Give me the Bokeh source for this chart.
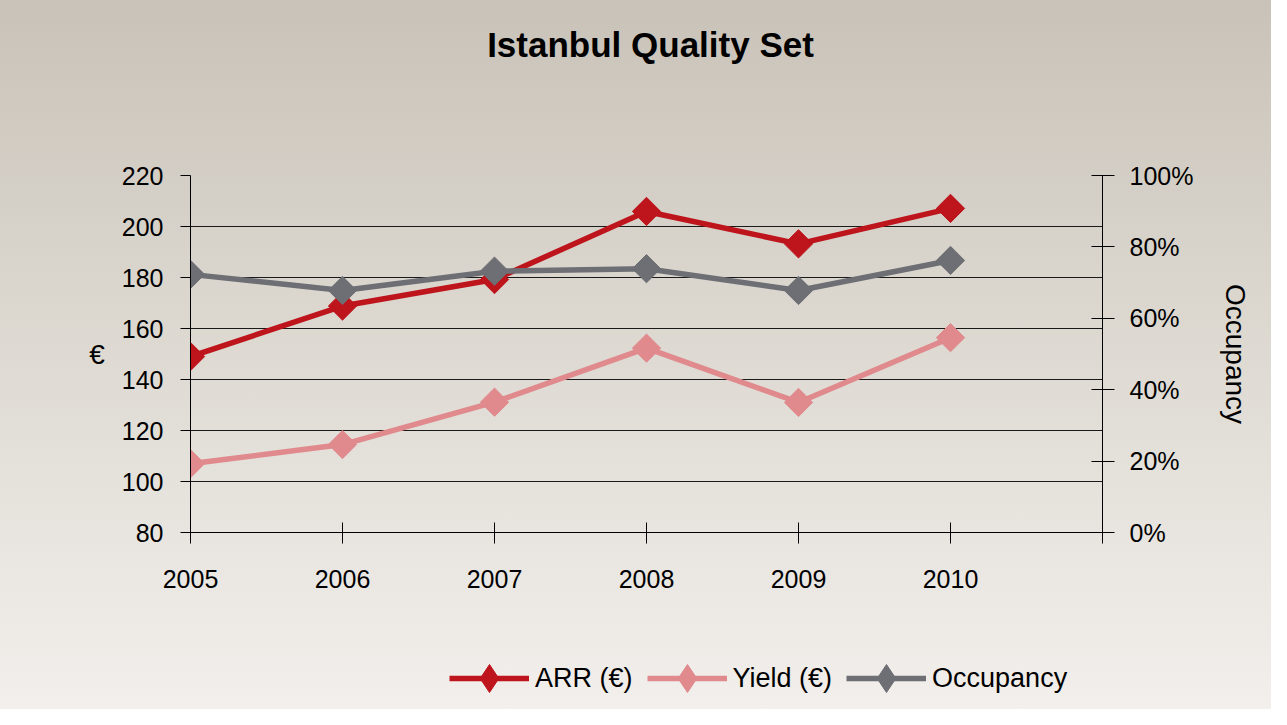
import math
from bokeh.plotting import figure
from bokeh.layouts import column
from bokeh.models import (Range1d, LinearAxis, FixedTicker, NumeralTickFormatter,
                          Legend, LegendItem, Label)
from bokeh.embed import file_html
from bokeh.resources import INLINE

years = [2005, 2006, 2007, 2008, 2009, 2010]
arr = [149.0, 168.8, 179.2, 205.9, 193.2, 207.1]
yield_eur = [107.0, 114.5, 131.1, 152.3, 131.0, 156.4]
occupancy = [0.723, 0.678, 0.732, 0.739, 0.678, 0.762]
left_ticks = [80, 100, 120, 140, 160, 180, 200, 220]
right_ticks = [0.0, 0.2, 0.4, 0.6, 0.8, 1.0]
x_ticks = [2005, 2006, 2007, 2008, 2009, 2010, 2011]
series_names = ["ARR (€)", "Yield (€)", "Occupancy"]
title_text = "Istanbul Quality Set"

FONT = "Liberation Sans"
RED = "#BE141C"
PINK = "#E08A8E"
GRAY = "#6D6F74"
COLORS = [RED, PINK, GRAY]
LW = 5.5
MS = 20
W = 1271


def strip(height, yr):
    f = figure(width=W, height=height, output_backend="svg", toolbar_location=None,
               x_range=Range1d(0, 1), y_range=Range1d(0, yr),
               x_axis_location=None, y_axis_location=None,
               min_border_left=0, min_border_right=0, min_border_top=0,
               min_border_bottom=0)
    f.border_fill_alpha = 0
    f.background_fill_alpha = 0
    f.outline_line_color = None
    f.grid.visible = False
    return f


# ---- title strip
tp = strip(155, 155)
tp.add_layout(Label(x=0.5, y=111, x_offset=4, text=title_text,
                    text_align="center", text_baseline="alphabetic",
                    text_font=FONT, text_font_size="35px", text_font_style="bold",
                    text_color="black"))

# ---- main chart
p = figure(width=W, height=450, output_backend="svg", toolbar_location=None,
           x_range=Range1d(2005, 2011), y_range=Range1d(80, 220),
           min_border_left=190, min_border_right=169, min_border_top=20,
           min_border_bottom=73)
p.border_fill_alpha = 0
p.background_fill_alpha = 0
p.outline_line_color = None
p.extra_y_ranges = {"occ": Range1d(0, 1)}

xa = p.xaxis[0]
xa.ticker = FixedTicker(ticks=x_ticks)
xa.major_label_overrides = {2011: ""}
xa.major_tick_in = 10
xa.major_tick_out = 11
xa.minor_tick_line_color = None
xa.major_label_standoff = 26
xa.axis_line_color = "black"
xa.major_tick_line_color = "black"

ya = p.yaxis[0]
ya.ticker = FixedTicker(ticks=left_ticks)
ya.major_tick_in = 0
ya.major_tick_out = 10
ya.minor_tick_line_color = None
ya.major_label_standoff = 17
ya.axis_line_color = "black"
ya.major_tick_line_color = "black"
ya.axis_label = "€"
ya.axis_label_standoff = 14
try:
    ya.axis_label_orientation = "horizontal"
except Exception:
    pass

ra = LinearAxis(y_range_name="occ", ticker=FixedTicker(ticks=right_ticks),
                formatter=NumeralTickFormatter(format="0%"), axis_label="Occupancy")
ra.major_tick_in = 11
ra.major_tick_out = 12
ra.minor_tick_line_color = None
ra.major_label_standoff = 15
ra.axis_label_standoff = 24
p.add_layout(ra, "right")

for ax in (xa, ya, ra):
    ax.major_label_text_font = FONT
    ax.major_label_text_font_size = "25px"
    ax.major_label_text_color = "black"
    ax.axis_label_text_font = FONT
    ax.axis_label_text_font_size = "28px"
    ax.axis_label_text_font_style = "normal"
    ax.axis_label_text_color = "black"

p.xgrid.grid_line_color = None
p.ygrid.ticker = FixedTicker(ticks=left_ticks)
p.ygrid.grid_line_color = "#1a1a1a"
p.ygrid.grid_line_width = 1

series = [(arr, "default"), (yield_eur, "default"), (occupancy, "occ")]
for (vals, rng), col in zip(series, COLORS):
    p.line(years, vals, line_color=col, line_width=LW, line_join="round",
           y_range_name=rng)
    p.scatter(years, vals, marker="square", angle=math.pi / 4, size=MS,
              fill_color=col, line_color=col, y_range_name=rng)

# ---- legend strip (keys drawn from the same series, outside the strip's view)
lg = strip(104, 104)
items = []
for (vals, rng), col, name in zip(series, COLORS, series_names):
    rl = lg.line(years, vals, line_color=col, line_width=LW)
    rm = lg.scatter(years, vals, marker="diamond", size=MS,
                    fill_color=col, line_color=col)
    items.append(LegendItem(label=name, renderers=[rl, rm]))

legend = Legend(items=items, orientation="horizontal", location=(259, -4))
legend.glyph_width = 80
legend.glyph_height = 70
legend.label_standoff = 6
legend.spacing = 14
legend.padding = 0
legend.margin = 0
legend.border_line_color = None
legend.background_fill_alpha = 0
legend.label_text_font = FONT
legend.label_text_font_size = "27px"
legend.label_text_color = "black"
lg.add_layout(legend, "center")

lay = column(tp, p, lg, spacing=0)
lay.styles = {"background": "linear-gradient(180deg, #C9C2B8 0%, #DCD8D0 45%, #F2EFEC 100%)"}

open("out.html", "w").write(file_html(lay, INLINE))
